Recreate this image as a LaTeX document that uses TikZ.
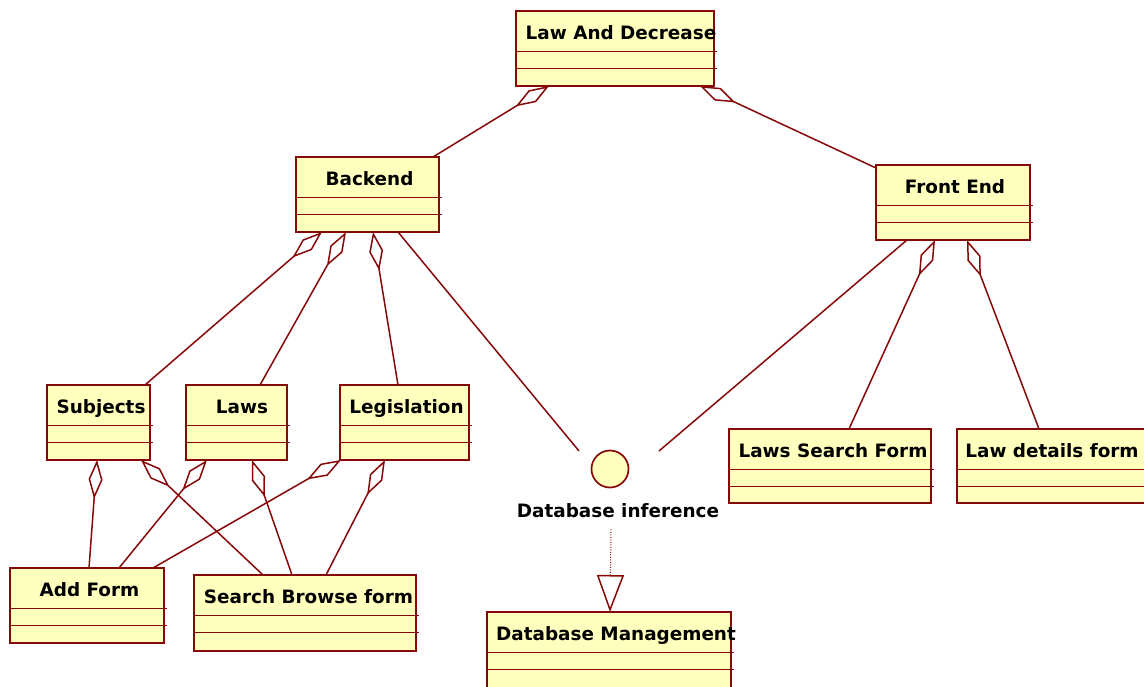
\documentclass[tikz,border=0pt]{standalone}
\usepackage{fontspec}
\setmainfont{DejaVu Sans}
\usetikzlibrary{arrows.meta}
\definecolor{umlred}{RGB}{135,8,8}
\definecolor{umlfill}{RGB}{255,255,190}
\newcommand\umlclass[7]{%
  \node[clsbox, minimum width={(#4)-(#2)}, minimum height={(#5)-(#3)}, anchor=north west] (#1) at (#2,#3) {};
  \draw[cmpline] ([yshift=-40.5pt]#1.north west) -- ([xshift=3pt,yshift=-40.5pt]#1.north east);
  \draw[cmpline] ([yshift=-57.5pt]#1.north west) -- ([xshift=3pt,yshift=-57.5pt]#1.north east);
  \node[clslabel, anchor=base] (#1-name) at (#6,#3+28.5) {#7};
}
\begin{document}
\begin{tikzpicture}[x=1pt,y=-1pt,
  clsbox/.style={draw=umlred, fill=umlfill, line width=1.7pt, inner sep=0pt, outer sep=0pt, rectangle},
  cmpline/.style={draw=umlred, line width=1.5pt},
  clslabel/.style={inner sep=0pt, font=\fontsize{18.4}{22}\selectfont\bfseries},
  agg/.style={draw=umlred, line width=1.5pt, -{Diamond[open, length=39pt, width=14pt]}},
  plainlink/.style={draw=umlred, line width=1.5pt},
  realize/.style={draw=umlred, line width=1pt, dash pattern=on 1pt off 1.5pt,
    -{Triangle[open, length=37pt, width=27pt, line width=1.5pt]}}]
\useasboundingbox (0,0) rectangle (1144,687);
\fill[white] (0,0) rectangle (1144,687);

\umlclass{lad}{516}{11}{714}{86}{621}{Law And Decrease}
\umlclass{bk}{296}{157}{439}{232}{369.5}{Backend}
\umlclass{fe}{876}{165}{1030}{240}{955}{Front End}
\umlclass{subj}{47}{385}{150}{460}{101}{Subjects}
\umlclass{laws}{186}{385}{287}{460}{242}{Laws}
\umlclass{leg}{340}{385}{469}{460}{406.5}{Legislation}
\umlclass{af}{10}{568}{164}{643}{89.5}{Add Form}
\umlclass{sbf}{194}{575}{416}{651}{308.5}{Search Browse form}
\umlclass{dbm}{487}{612}{731}{688}{616}{Database Management}
\umlclass{lsf}{729}{429}{931}{503}{833}{Laws Search Form}
\umlclass{ldf}{957}{429}{1150}{503}{1052}{Law details form}

\node[circle, draw=umlred, fill=umlfill, line width=1.7pt, minimum size=37pt, inner sep=0pt] (dbi) at (610,469) {};
\node[clslabel, anchor=base] (dbi-name) at (618,517) {Database inference};

\coordinate (dbi-l) at ([xshift=-31pt,yshift=18pt]dbi.center);
\coordinate (dbi-r) at ([xshift=49pt,yshift=18pt]dbi.center);
\coordinate (dbi-d) at ([xshift=1pt,yshift=-12pt]dbi.center |- dbi-name.south);

% aggregations
\draw[agg] ([xshift=137pt]bk.north west) -- ([xshift=33pt]lad.south west);
\draw[agg] ([yshift=-3pt]fe.north west) -- ([xshift=184pt]lad.south west);
\draw[agg] ([xshift=98pt]subj.north west) -- ([xshift=26pt]bk.south west);
\draw[agg] ([xshift=74pt]laws.north west) -- ([xshift=50pt]bk.south west);
\draw[agg] ([xshift=58pt]leg.north west) -- ([xshift=77pt]bk.south west);
\draw[agg] ([xshift=120pt]lsf.north west) -- ([xshift=59pt]fe.south west);
\draw[agg] ([xshift=82pt]ldf.north west) -- ([xshift=91pt]fe.south west);
\draw[agg] ([xshift=79pt]af.north west) -- ([xshift=50pt]subj.south west);
\draw[agg] ([xshift=69pt]sbf.north west) -- ([xshift=94pt]subj.south west);
\draw[agg] ([xshift=109pt]af.north west) -- ([xshift=21pt]laws.south west);
\draw[agg] ([xshift=98pt]sbf.north west) -- ([xshift=66pt]laws.south west);
\draw[agg] ([xshift=143pt]af.north west) -- ([xshift=1pt]leg.south west);
\draw[agg] ([xshift=132pt]sbf.north west) -- ([xshift=45pt]leg.south west);

% links to interface
\draw[plainlink] ([xshift=102pt]bk.south west) -- (dbi-l);
\draw[plainlink] ([xshift=31pt]fe.south west) -- (dbi-r);

% realization
\draw[realize] (dbi-d) -- ([xshift=123pt]dbm.north west);
\end{tikzpicture}
\end{document}
